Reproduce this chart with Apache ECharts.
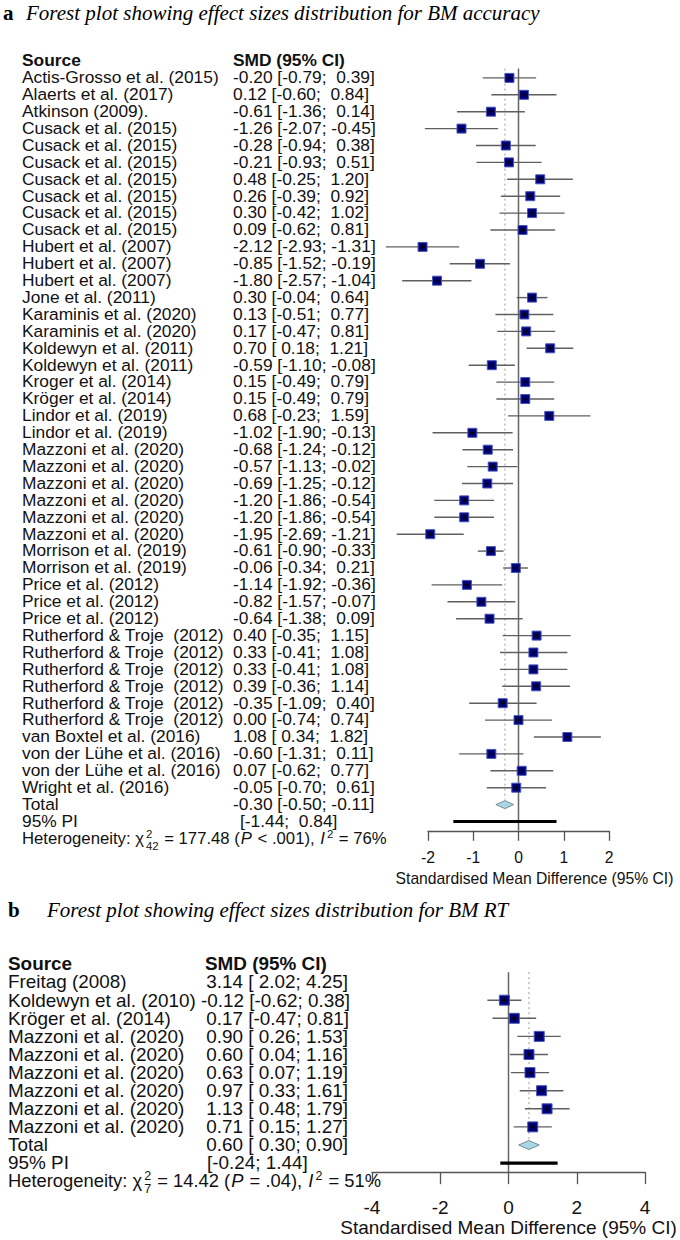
<!DOCTYPE html>
<html><head><meta charset="utf-8">
<script src="https://cdn.jsdelivr.net/npm/echarts@6/dist/echarts.min.js"></script>
<style>html,body{margin:0;padding:0;background:#fff}#c{width:680px;height:1240px}</style>
</head><body><div id="c"></div>
<script>
// ---------- Panel a data ----------
const sourcesA = ["Actis-Grosso et al. (2015)","Alaerts et al. (2017)","Atkinson (2009).",
 "Cusack et al. (2015)","Cusack et al. (2015)","Cusack et al. (2015)","Cusack et al. (2015)","Cusack et al. (2015)","Cusack et al. (2015)","Cusack et al. (2015)",
 "Hubert et al. (2007)","Hubert et al. (2007)","Hubert et al. (2007)","Jone et al. (2011)",
 "Karaminis et al. (2020)","Karaminis et al. (2020)","Koldewyn et al. (2011)","Koldewyn et al. (2011)",
 "Kroger et al. (2014)","Kröger et al. (2014)","Lindor et al. (2019)","Lindor et al. (2019)",
 "Mazzoni et al. (2020)","Mazzoni et al. (2020)","Mazzoni et al. (2020)","Mazzoni et al. (2020)","Mazzoni et al. (2020)","Mazzoni et al. (2020)",
 "Morrison et al. (2019)","Morrison et al. (2019)","Price et al. (2012)","Price et al. (2012)","Price et al. (2012)",
 "Rutherford & Troje\u00a0 (2012)","Rutherford & Troje\u00a0 (2012)","Rutherford & Troje\u00a0 (2012)","Rutherford & Troje\u00a0 (2012)","Rutherford & Troje\u00a0 (2012)","Rutherford & Troje\u00a0 (2012)",
 "van Boxtel et al. (2016)","von der Lühe et al. (2016)","von der Lühe et al. (2016)","Wright et al. (2016)"];
const smdA = [-0.20,0.12,-0.61,-1.26,-0.28,-0.21,0.48,0.26,0.30,0.09,-2.12,-0.85,-1.80,0.30,0.13,0.17,0.70,-0.59,0.15,0.15,0.68,-1.02,-0.68,-0.57,-0.69,-1.20,-1.20,-1.95,-0.61,-0.06,-1.14,-0.82,-0.64,0.40,0.33,0.33,0.39,-0.35,0.00,1.08,-0.60,0.07,-0.05];
const lowA = [-0.79,-0.60,-1.36,-2.07,-0.94,-0.93,-0.25,-0.39,-0.42,-0.62,-2.93,-1.52,-2.57,-0.04,-0.51,-0.47,0.18,-1.10,-0.49,-0.49,-0.23,-1.90,-1.24,-1.13,-1.25,-1.86,-1.86,-2.69,-0.90,-0.34,-1.92,-1.57,-1.38,-0.35,-0.41,-0.41,-0.36,-1.09,-0.74,0.34,-1.31,-0.62,-0.70];
const highA = [0.39,0.84,0.14,-0.45,0.38,0.51,1.20,0.92,1.02,0.81,-1.31,-0.19,-1.04,0.64,0.77,0.81,1.21,-0.08,0.79,0.79,1.59,-0.13,-0.12,-0.02,-0.12,-0.54,-0.54,-1.21,-0.33,0.21,-0.36,-0.07,0.09,1.15,1.08,1.08,1.14,0.40,0.74,1.82,0.11,0.77,0.61];
const totalA = [-0.30,-0.50,-0.11];
const piA = [-1.44,0.84];
const hetA = {df:"42", q:"177.48", p:"< .001", i2:"76%"};
const ticksA = [-2,-1,0,1,2];

// ---------- Panel b data ----------
const sourcesB = ["Freitag (2008)","Koldewyn et al. (2010)","Kröger et al. (2014)","Mazzoni et al. (2020)","Mazzoni et al. (2020)","Mazzoni et al. (2020)","Mazzoni et al. (2020)","Mazzoni et al. (2020)","Mazzoni et al. (2020)"];
const smdB = [3.14,-0.12,0.17,0.90,0.60,0.63,0.97,1.13,0.71];
const lowB = [2.02,-0.62,-0.47,0.26,0.04,0.07,0.33,0.48,0.15];
const highB = [4.25,0.38,0.81,1.53,1.16,1.19,1.61,1.79,1.27];
const plottedB = [false,true,true,true,true,true,true,true,true]; // Freitag not drawn in the plot
const totalB = [0.60,0.30,0.90];
const piB = [-0.24,1.44];
const hetB = {df:"7", q:"14.42", p:"= .04", i2:"51%"};
const ticksB = [-4,-2,0,2,4];

const titleA = "Forest plot showing effect sizes distribution for BM accuracy";
const titleB = "Forest plot showing effect sizes distribution for BM RT";
const xTitle = "Standardised Mean Difference (95% CI)";

// ---------- helpers ----------
const SANS = "'Liberation Sans', Arial, Helvetica, sans-serif";
const SERIF = "'Liberation Serif', 'Times New Roman', Times, serif";
const f2 = v => v.toFixed(2);
const NB = "\u00a0";
function ciTextA(s, l, h) { return f2(s) + " [" + (l >= 0 ? NB : "") + f2(l) + ";" + (h >= 0 ? NB + " " : " ") + f2(h) + "]"; }
function ciTextB(s, l, h) { return (s >= 0 ? NB : "") + f2(s) + " [" + (l >= 0 ? NB : "") + f2(l) + "; " + f2(h) + "]"; }

const L = {
  a: {grid:{left:428, width:181, rowTop:61, step:16.9, axisRow:45.55}, fs:16.7, sx:1.04, hetSx:1.0, axFs:15.7, srcX:22, colX:233, piX:240, sq:9,
      tickLen:10, labMargin:19, nameGap:35, namePad:32},
  b: {grid:{left:372, width:273, rowTop:964, step:18.1, axisRow:11.5}, fs:18, sx:1.05, hetSx:1.02, axFs:19, srcX:8, colX:201, piX:207, sq:10,
      tickLen:12, labMargin:26, nameGap:42, namePad:0}
};

const meas = document.createElement('canvas').getContext('2d');
function tw(t, size, style) { meas.font = (style || '') + ' ' + size + 'px ' + SANS; return meas.measureText(t).width; }

function gridOf(p) {
  const g = p.grid;
  return {left:g.left, width:g.width, top:g.rowTop - 0.5*g.step, height:(g.axisRow + 0.5)*g.step, containLabel:false};
}

function textSeries(gi, x, rows, texts, size, sx, weight) {
  return {type:'custom', xAxisIndex:gi, yAxisIndex:gi, silent:true, clip:false, z:5,
    data: rows.map((r,i)=>[0, r, i]),
    renderItem:(params, api)=>{
      const y = api.coord([0, api.value(1)])[1];
      return {type:'text', x:x, y:y, scaleX:sx, style:{x:0, y:0, text:texts[api.value(2)], fontSize:size, fontFamily:SANS, fontWeight:weight||'normal',
        fill:'#111', verticalAlign:'middle', align:'left'}};
    }};
}

function studySeries(gi, smd, lo, hi, rows, sq) {
  return {type:'custom', xAxisIndex:gi, yAxisIndex:gi, silent:true, clip:false, z:4,
    data: smd.map((v,i)=>[v, lo[i], hi[i], rows[i]]),
    renderItem:(params, api)=>{
      const r = api.value(3);
      const c = api.coord([api.value(0), r]);
      const a = api.coord([api.value(1), r]);
      const b = api.coord([api.value(2), r]);
      const h = sq/2;
      return {type:'group', children:[
        {type:'line', shape:{x1:a[0], y1:c[1], x2:b[0], y2:c[1]}, style:{stroke:'#5f5f5f', lineWidth:1.4}},
        {type:'rect', shape:{x:c[0]-h, y:c[1]-h, width:sq, height:sq}, style:{fill:'#00007a', stroke:'#4656b8', lineWidth:1}},
        {type:'line', shape:{x1:c[0]-2.5, y1:c[1], x2:c[0]+2.5, y2:c[1]}, style:{stroke:'#000', lineWidth:1}},
        {type:'line', shape:{x1:c[0], y1:c[1]-2.5, x2:c[0], y2:c[1]+2.5}, style:{stroke:'#000', lineWidth:1}}
      ]};
    }};
}

function vlineSeries(gi, x, r1, r2, dotted) {
  return {type:'custom', xAxisIndex:gi, yAxisIndex:gi, silent:true, clip:false, z:2,
    data:[[x, r1, r2]],
    renderItem:(params, api)=>{
      const p1 = api.coord([api.value(0), api.value(1)]);
      const p2 = api.coord([api.value(0), api.value(2)]);
      return {type:'line', shape:{x1:p1[0], y1:p1[1], x2:p2[0], y2:p2[1]},
        style: dotted ? {stroke:'#9a9a9a', lineWidth:1, lineDash:[2,3]} : {stroke:'#666', lineWidth:1.5}};
    }};
}

function diamondSeries(gi, tot, row, hh) {
  return {type:'custom', xAxisIndex:gi, yAxisIndex:gi, silent:true, clip:false, z:4,
    data:[[tot[0], tot[1], tot[2], row]],
    renderItem:(params, api)=>{
      const r = api.value(3);
      const e = api.coord([api.value(0), r]), l = api.coord([api.value(1), r]), h = api.coord([api.value(2), r]);
      return {type:'polygon', shape:{points:[[l[0], e[1]], [e[0], e[1]-hh], [h[0], e[1]], [e[0], e[1]+hh]]},
        style:{fill:'#a8d8e8', stroke:'#7a8a90', lineWidth:1}};
    }};
}

function piSeries(gi, pi, row) {
  return {type:'custom', xAxisIndex:gi, yAxisIndex:gi, silent:true, clip:false, z:4,
    data:[[pi[0], pi[1], row]],
    renderItem:(params, api)=>{
      const a = api.coord([api.value(0), api.value(2)]), b = api.coord([api.value(1), api.value(2)]);
      return {type:'line', shape:{x1:a[0], y1:a[1], x2:b[0], y2:b[1]}, style:{stroke:'#000', lineWidth:3.2}};
    }};
}

function hetSeries(gi, x, row, het, size, sx) {
  const parts = [
    {t:"Heterogeneity: χ"}, {sup:"2", sub:het.df}, {t:" = " + het.q + " ("}, {t:"P", it:true},
    {t:" " + het.p + "), "}, {t:"I", it:true}, {sup:"2"}, {t:" = " + het.i2}
  ];
  return {type:'custom', xAxisIndex:gi, yAxisIndex:gi, silent:true, clip:false, z:5,
    data:[[0, row]],
    renderItem:(params, api)=>{
      const y = api.coord([0, api.value(1)])[1];
      const kids = [];
      let cx = 0;
      const small = size*0.68;
      parts.forEach(p=>{
        if (p.t !== undefined) {
          kids.push({type:'text', style:{x:cx, y:0, text:p.t, fontSize:size, fontFamily:SANS, fontStyle:p.it?'italic':'normal',
            fill:'#111', verticalAlign:'middle', align:'left'}});
          cx += tw(p.t, size, p.it ? 'italic' : '') + 1;
        } else {
          let w = 0;
          if (p.sup) {
            kids.push({type:'text', style:{x:cx + 1, y:size*0.04, text:p.sup, fontSize:small, fontFamily:SANS, fill:'#111', verticalAlign:'bottom', align:'left'}});
            w = Math.max(w, tw(p.sup, small));
          }
          if (p.sub) {
            kids.push({type:'text', style:{x:cx + 1, y:size*0.12, text:p.sub, fontSize:small, fontFamily:SANS, fill:'#111', verticalAlign:'top', align:'left'}});
            w = Math.max(w, tw(p.sub, small));
          }
          cx += w + 2;
        }
      });
      return {type:'group', x:x, y:y, scaleX:sx, children:kids};
    }};
}

function xAxisOf(gi, p, ticks) {
  return {gridIndex:gi, type:'value', min:ticks[0], max:ticks[ticks.length-1], interval:ticks[1]-ticks[0],
    position:'bottom',
    axisLine:{show:true, onZero:false, lineStyle:{color:'#555', width:1.3}},
    axisTick:{show:true, inside:false, length:p.tickLen, lineStyle:{color:'#555', width:1.3}},
    axisLabel:{show:true, fontSize:p.axFs, fontFamily:SANS, color:'#111', margin:p.labMargin},
    splitLine:{show:false},
    name:xTitle, nameLocation:'middle', nameGap:p.nameGap,
    nameTextStyle:{fontSize:p.axFs, fontFamily:SANS, color:'#111', padding:[0,0,0,p.namePad]}};
}
function yAxisOf(gi, p) {
  return {gridIndex:gi, type:'value', inverse:true, min:-0.5, max:p.grid.axisRow, show:false};
}

// rows
const nA = sourcesA.length;
const rowsA = sourcesA.map((s,i)=>i+1);
const totRowA = nA+1, piRowA = nA+2, hetRowA = nA+3;
const nB = sourcesB.length;
const rowsB = sourcesB.map((s,i)=>i+1);
const totRowB = nB+1, piRowB = nB+2, hetRowB = nB+3;

const ciA = smdA.map((s,i)=>ciTextA(s, lowA[i], highA[i]));
const ciB = smdB.map((s,i)=>ciTextB(s, lowB[i], highB[i]));

const pa = L.a, pb = L.b;
const idxB = smdB.map((v,i)=>i).filter(i=>plottedB[i]);

const option = {
  animation:false,
  backgroundColor:'#fff',
  grid:[gridOf(pa), gridOf(pb)],
  xAxis:[xAxisOf(0, pa, ticksA), xAxisOf(1, pb, ticksB)],
  yAxis:[yAxisOf(0, pa), yAxisOf(1, pb)],
  graphic:[
    {type:'text', x:3, y:13, style:{text:'a', fontSize:21, fontFamily:SERIF, fontWeight:'bold', fill:'#000', verticalAlign:'middle'}},
    {type:'text', x:26, y:13, style:{text:titleA, fontSize:21, fontFamily:SERIF, fontStyle:'italic', fill:'#000', verticalAlign:'middle'}},
    {type:'text', x:8, y:910, style:{text:'b', fontSize:21, fontFamily:SERIF, fontWeight:'bold', fill:'#000', verticalAlign:'middle'}},
    {type:'text', x:47, y:910, style:{text:titleB, fontSize:21, fontFamily:SERIF, fontStyle:'italic', fill:'#000', verticalAlign:'middle'}}
  ],
  series:[
    // panel a
    vlineSeries(0, 0, 0.45, pa.grid.axisRow, false),
    vlineSeries(0, totalA[0], 0.45, totRowA - 0.3, true),
    studySeries(0, smdA, lowA, highA, rowsA, pa.sq),
    diamondSeries(0, totalA, totRowA, 4),
    piSeries(0, piA, piRowA),
    textSeries(0, pa.srcX, [0], ["Source"], pa.fs, pa.sx, 'bold'),
    textSeries(0, pa.colX, [0], ["SMD (95% CI)"], pa.fs, pa.sx, 'bold'),
    textSeries(0, pa.srcX, rowsA.concat([totRowA, piRowA]), sourcesA.concat(["Total", "95% PI"]), pa.fs, pa.sx),
    textSeries(0, pa.colX, rowsA.concat([totRowA]), ciA.concat([ciTextA(totalA[0], totalA[1], totalA[2])]), pa.fs, pa.sx),
    textSeries(0, pa.piX, [piRowA], ["[" + f2(piA[0]) + ";" + NB + " " + f2(piA[1]) + "]"], pa.fs, pa.sx),
    hetSeries(0, pa.srcX, hetRowA, hetA, pa.fs, pa.hetSx),
    // panel b
    vlineSeries(1, 0, 0.45, pb.grid.axisRow, false),
    vlineSeries(1, totalB[0], 0.45, totRowB - 0.3, true),
    studySeries(1, idxB.map(i=>smdB[i]), idxB.map(i=>lowB[i]), idxB.map(i=>highB[i]), idxB.map(i=>rowsB[i]), pb.sq),
    diamondSeries(1, totalB, totRowB, 4.5),
    piSeries(1, piB, piRowB),
    textSeries(1, pb.srcX, [0], ["Source"], pb.fs, pb.sx, 'bold'),
    textSeries(1, pb.colX + 4, [0], ["SMD (95% CI)"], pb.fs, pb.sx, 'bold'),
    textSeries(1, pb.srcX, rowsB.concat([totRowB, piRowB]), sourcesB.concat(["Total", "95% PI"]), pb.fs, pb.sx),
    textSeries(1, pb.colX, rowsB.concat([totRowB]), ciB.concat([ciTextB(totalB[0], totalB[1], totalB[2])]), pb.fs, pb.sx),
    textSeries(1, pb.piX, [piRowB], ["[" + f2(piB[0]) + "; " + f2(piB[1]) + "]"], pb.fs, pb.sx),
    hetSeries(1, pb.srcX, hetRowB, hetB, pb.fs, pb.hetSx)
  ]
};

const chart = echarts.init(document.getElementById('c'), null, {renderer:'svg'});
chart.setOption(option);
</script>
</body></html>
